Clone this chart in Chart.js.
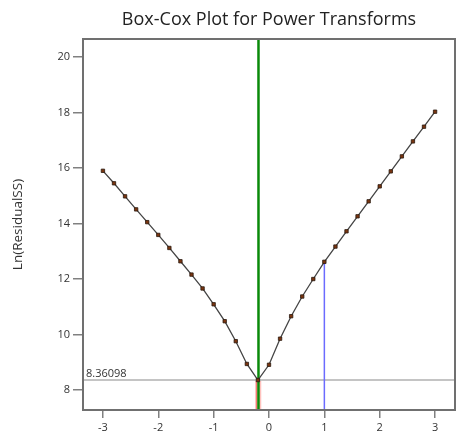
<!DOCTYPE html>
<html>
<head>
<meta charset="utf-8">
<script src="https://cdn.jsdelivr.net/npm/chart.js@4/dist/chart.umd.min.js"></script>
<style>
  html, body { margin: 0; padding: 0; background: #fff; }
  #wrap { position: relative; width: 457px; height: 440px; }
</style>
</head>
<body>
<div id="wrap"><canvas id="c" width="457" height="440"></canvas></div>
<script>
// Box-Cox lambda grid and ln(residual SS) at each lambda
const lambdas = [-3, -2.8, -2.6, -2.4, -2.2, -2, -1.8, -1.6, -1.4, -1.2, -1, -0.8, -0.6, -0.4, -0.2,
                 0, 0.2, 0.4, 0.6, 0.8, 1, 1.2, 1.4, 1.6, 1.8, 2, 2.2, 2.4, 2.6, 2.8, 3];
const lnResidualSS = [15.90, 15.45, 14.98, 14.51, 14.05, 13.59, 13.12, 12.64, 12.16, 11.66, 11.09, 10.48, 9.76, 8.94, 8.36,
                      8.91, 9.85, 10.66, 11.37, 12.00, 12.62, 13.17, 13.72, 14.26, 14.80, 15.34, 15.88, 16.42, 16.96, 17.49, 18.03];

// Best lambda, its confidence interval, the reference threshold and the current lambda
const bestLambda = -0.19;
const ciLow = -0.24;
const ciHigh = -0.14;
const threshold = 8.36098;
const currentLambda = 1;
const currentValue = 12.62;

// Axis ranges and tick labels
const xRange = [-3.36, 3.36];
const yRange = [7.28, 20.65];
const xTicks = [-3, -2, -1, 0, 1, 2, 3];
const yTicks = [8, 10, 12, 14, 16, 18, 20];

const FONT = "'Open Sans', 'Noto Sans', sans-serif";

const curve = lambdas.map((l, i) => ({ x: l, y: lnResidualSS[i] }));

// Frame, CI band, threshold label and title
const decor = {
  id: 'decor',
  beforeDatasetsDraw(chart) {
    const { ctx, chartArea: a, scales: { x, y } } = chart;
    const x0 = x.getPixelForValue(ciLow), x1 = x.getPixelForValue(ciHigh);
    const yTop = y.getPixelForValue(threshold);
    ctx.save();
    ctx.fillStyle = 'rgba(255,120,110,0.45)';
    ctx.fillRect(x0, yTop, x1 - x0, a.bottom - yTop);
    ctx.strokeStyle = 'rgba(235,70,60,0.8)';
    ctx.lineWidth = 1;
    ctx.beginPath();
    ctx.moveTo(x0 + 0.5, yTop); ctx.lineTo(x0 + 0.5, a.bottom);
    ctx.stroke();
    ctx.restore();
  },
  afterDatasetsDraw(chart) {
    const { ctx, chartArea: a, scales: { y } } = chart;
    ctx.save();
    ctx.fillStyle = '#333';
    ctx.font = `11px ${FONT}`;
    ctx.textAlign = 'left';
    ctx.textBaseline = 'bottom';
    ctx.fillText(threshold.toFixed(5), a.left + 3, y.getPixelForValue(threshold) - 1);
    ctx.strokeStyle = '#707070';
    ctx.lineWidth = 2;
    ctx.strokeRect(a.left, a.top, a.right - a.left, a.bottom - a.top);
    ctx.fillStyle = '#222';
    ctx.font = `18px ${FONT}`;
    ctx.textAlign = 'center';
    ctx.textBaseline = 'middle';
    ctx.fillText('Box-Cox Plot for Power Transforms', (a.left + a.right) / 2, 20);
    ctx.restore();
  }
};

new Chart(document.getElementById('c'), {
  type: 'scatter',
  data: {
    datasets: [
      {
        label: 'Ln(ResidualSS)',
        data: curve,
        showLine: true,
        borderColor: '#444',
        borderWidth: 1.3,
        pointStyle: 'rect',
        pointRadius: 2.4,
        pointBackgroundColor: '#7a3510',
        pointBorderColor: '#2a1a10',
        pointBorderWidth: 0.8,
        order: 0
      },
      {
        label: 'threshold',
        data: [{ x: xRange[0], y: threshold }, { x: xRange[1], y: threshold }],
        showLine: true,
        borderColor: '#c4c4c4',
        borderWidth: 2,
        pointRadius: 0,
        order: 3
      },
      {
        label: 'current',
        data: [{ x: currentLambda, y: yRange[0] }, { x: currentLambda, y: currentValue }],
        showLine: true,
        borderColor: '#6b6bff',
        borderWidth: 1.5,
        pointRadius: 0,
        order: 2
      },
      {
        label: 'best',
        data: [{ x: bestLambda, y: yRange[0] }, { x: bestLambda, y: yRange[1] }],
        showLine: true,
        borderColor: '#0a8a0a',
        borderWidth: 2.5,
        pointRadius: 0,
        order: 1
      }
    ]
  },
  options: {
    responsive: false,
    animation: false,
    events: [],
    layout: { autoPadding: false, padding: { top: 39, right: 2, left: 0, bottom: 0 } },
    plugins: { legend: { display: false }, tooltip: { enabled: false }, title: { display: false } },
    scales: {
      x: {
        type: 'linear',
        min: xRange[0],
        max: xRange[1],
        afterBuildTicks: s => { s.ticks = xTicks.map(v => ({ value: v })); },
        afterFit: s => { s.height = 30; s.paddingLeft = 0; s.paddingRight = 0; },
        grid: { drawOnChartArea: false, drawTicks: true, tickLength: 8, color: '#808080', lineWidth: 1.5 },
        border: { display: true, color: '#707070', width: 2 },
        ticks: { color: '#333', font: { family: FONT, size: 11 }, padding: 3, maxRotation: 0 }
      },
      y: {
        type: 'linear',
        min: yRange[0],
        max: yRange[1],
        afterBuildTicks: s => { s.ticks = yTicks.map(v => ({ value: v })); },
        afterFit: s => { s.width = 83; s.paddingTop = 0; s.paddingBottom = 0; },
        grid: { drawOnChartArea: false, drawTicks: true, tickLength: 10, color: '#808080', lineWidth: 1.5 },
        border: { display: true, color: '#707070', width: 2 },
        ticks: { color: '#333', font: { family: FONT, size: 11 }, padding: 3 },
        title: { display: true, text: 'Ln(ResidualSS)', color: '#333', font: { family: FONT, size: 13.5 }, padding: { top: 10, bottom: 0 } }
      }
    }
  },
  plugins: [decor]
});
</script>
</body>
</html>
